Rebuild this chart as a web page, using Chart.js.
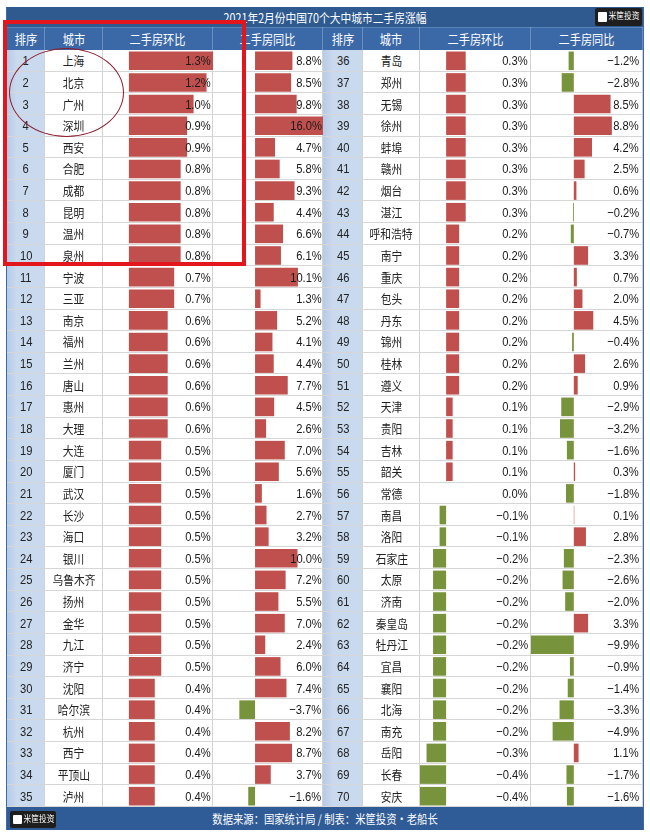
<!DOCTYPE html>
<html><head><meta charset="utf-8">
<script src="https://cdn.jsdelivr.net/npm/chart.js@4.4.1/dist/chart.umd.min.js"></script>
<style>
html,body{margin:0;padding:0;background:#fff;}
body{width:650px;height:840px;overflow:hidden;position:relative;font-family:"Liberation Sans","Noto Sans CJK SC",sans-serif;}
.abs{position:absolute;box-sizing:border-box;}
.cell{position:absolute;display:flex;align-items:center;white-space:nowrap;box-sizing:border-box;}
.cell span{display:inline-block;transform:scaleX(0.86);}
canvas{position:absolute;}
</style></head><body>
<script>
// ---------- DATA ----------
const chartTitle = '2021年2月份中国70个大中城市二手房涨幅';
const headerLabels = ['排序','城市','二手房环比','二手房同比'];
const footerText = '数据来源：国家统计局 / 制表：米筐投资·老船长';
const logoText = '米筐投资';

const ranksLeft = [1,2,3,4,5,6,7,8,9,10,11,12,13,14,15,16,17,18,19,20,21,22,23,24,25,26,27,28,29,30,31,32,33,34,35];
const citiesLeft = ['上海','北京','广州','深圳','西安','合肥','成都','昆明','温州','泉州','宁波','三亚','南京','福州','兰州','唐山','惠州','大理','大连','厦门','武汉','长沙','海口','银川','乌鲁木齐','扬州','金华','九江','济宁','沈阳','哈尔滨','杭州','西宁','平顶山','泸州'];
const momLeft = [1.3,1.2,1.0,0.9,0.9,0.8,0.8,0.8,0.8,0.8,0.7,0.7,0.6,0.6,0.6,0.6,0.6,0.6,0.5,0.5,0.5,0.5,0.5,0.5,0.5,0.5,0.5,0.5,0.5,0.4,0.4,0.4,0.4,0.4,0.4];
const yoyLeft = [8.8,8.5,9.8,16.0,4.7,5.8,9.3,4.4,6.6,6.1,10.1,1.3,5.2,4.1,4.4,7.7,4.5,2.6,7.0,5.6,1.6,2.7,3.2,10.0,7.2,5.5,7.0,2.4,6.0,7.4,-3.7,8.2,8.7,3.7,-1.6];

const ranksRight = [36,37,38,39,40,41,42,43,44,45,46,47,48,49,50,51,52,53,54,55,56,57,58,59,60,61,62,63,64,65,66,67,68,69,70];
const citiesRight = ['青岛','郑州','无锡','徐州','蚌埠','赣州','烟台','湛江','呼和浩特','南宁','重庆','包头','丹东','锦州','桂林','遵义','天津','贵阳','吉林','韶关','常德','南昌','洛阳','石家庄','太原','济南','秦皇岛','牡丹江','宜昌','襄阳','北海','南充','岳阳','长春','安庆'];
const momRight = [0.3,0.3,0.3,0.3,0.3,0.3,0.3,0.3,0.2,0.2,0.2,0.2,0.2,0.2,0.2,0.2,0.1,0.1,0.1,0.1,0.0,-0.1,-0.1,-0.2,-0.2,-0.2,-0.2,-0.2,-0.2,-0.2,-0.2,-0.2,-0.3,-0.4,-0.4];
const yoyRight = [-1.2,-2.8,8.5,8.8,4.2,2.5,0.6,-0.2,-0.7,3.3,0.7,2.0,4.5,-0.4,2.6,0.9,-2.9,-3.2,-1.6,0.3,-1.8,0.1,2.8,-2.3,-2.6,-2.0,3.3,-9.9,-0.9,-1.4,-3.3,-4.9,1.1,-1.7,-1.6];

// axis ranges of the data bars
const momRange = [-0.4, 1.3];
const yoyRange = [-9.9, 16.0];

// ---------- LAYOUT ----------
const FX0 = 7, FX1 = 643;
const TITLE_Y = 7, HEAD_Y = 27, ROW_Y = 50, ROWS_END = 807, FOOT_END = 830;
const NROW = 35, RH = (ROWS_END - ROW_Y) / NROW;
const COLS = {
  L:{rank:[FX0,45], city:[45,103], mom:[103,213], yoy:[213,323], pads:[2,1.5]},
  R:{rank:[323,363], city:[363,420], mom:[420,531], yoy:[531,FX1], pads:[3,4]}
};
const RED = '#c0504d', GREEN = '#77933c';
const NUMFONT = '"Liberation Sans", Arial, sans-serif';
const CJKFONT = '"Noto Sans CJK SC", sans-serif';

function box(x, y, w, h, css, z) {
  const d = document.createElement('div');
  d.className = 'abs';
  Object.assign(d.style, {left:x+'px', top:y+'px', width:w+'px', height:h+'px', zIndex:z||1}, css||{});
  document.body.appendChild(d);
  return d;
}
function text(str, x, y, w, h, align, font, size, color, z, origin) {
  const d = document.createElement('div');
  d.className = 'cell';
  Object.assign(d.style, {left:x+'px', top:y+'px', width:w+'px', height:h+'px',
    justifyContent: align==='right'?'flex-end':(align==='left'?'flex-start':'center'),
    fontFamily:font, fontSize:size+'px', color:color, zIndex:z||3});
  const s = document.createElement('span');
  s.textContent = str;
  s.style.transformOrigin = origin || (align==='right'?'right center':'center center');
  d.appendChild(s);
  document.body.appendChild(d);
  return d;
}
const fmt = v => (v < 0 ? '\u2212' : '') + Math.abs(v).toFixed(1) + '%';

// frame / title / header / footer
box(FX0-1, TITLE_Y, FX1-FX0+2, FOOT_END-TITLE_Y, {border:'1px solid #3d6aa6', background:'#fff'}, 0);
box(FX0, TITLE_Y, FX1-FX0, HEAD_Y-TITLE_Y, {background:'#2e5a90'}, 1);
box(FX0, HEAD_Y, FX1-FX0, ROW_Y-HEAD_Y, {background:'#3b69a7', borderTop:'1px solid #5a83b8'}, 1);
box(FX0, ROWS_END, FX1-FX0, FOOT_END-ROWS_END, {background:'#2f5c96'}, 1);
text(chartTitle, FX0, TITLE_Y, FX1-FX0, HEAD_Y-TITLE_Y, 'center', CJKFONT, 12.5, '#fff', 3);
text(footerText, FX0, ROWS_END, FX1-FX0, FOOT_END-ROWS_END, 'center', CJKFONT, 12, '#fff', 3);

function logo(x, y, w, h) {
  box(x, y, w, h, {background:'#1e1e1e', borderRadius:'2px'}, 2);
  box(x+3, y+4, 9, h-8, {background:'#fff', borderRadius:'1px'}, 3);
  text(logoText, x+12, y, w-13, h-3, 'center', CJKFONT, 9, '#fff', 4);
}
logo(595, 8, 47, 18);
logo(10, 811, 46, 17);

// columns
const sides = [
  {c:COLS.L, ranks:ranksLeft, cities:citiesLeft, mom:momLeft, yoy:yoyLeft},
  {c:COLS.R, ranks:ranksRight, cities:citiesRight, mom:momRight, yoy:yoyRight}
];
sides.forEach(side => {
  const c = side.c;
  const keys = ['rank','city','mom','yoy'];
  keys.forEach((k, i) => {
    const [x0, x1] = c[k];
    // header
    box(x0, HEAD_Y, x1-x0, ROW_Y-HEAD_Y, {borderRight:'1px solid rgba(255,255,255,0.25)'}, 2);
    text(headerLabels[i], x0, HEAD_Y, x1-x0, ROW_Y-HEAD_Y, 'center', CJKFONT, 13, '#fff', 3);
    // column body
    const bg = k === 'rank' ? 'linear-gradient(to right, #b6cbe6 0%, #c9d9ee 25%, #c9d9ee 100%)' : '#fff';
    box(x0, ROW_Y, x1-x0, ROWS_END-ROW_Y, {background:bg, borderRight:'1px solid #d3d3d3'}, 1);
  });
  for (let r = 0; r < NROW; r++) {
    const y = ROW_Y + r*RH;
    box(c.rank[0], y, c.yoy[1]-c.rank[0], RH, {borderBottom:'1px solid #d6d6d6'}, 1);
    text(String(side.ranks[r]), c.rank[0], y, c.rank[1]-c.rank[0], RH, 'center', NUMFONT, 13, '#222', 3);
    text(side.cities[r], c.city[0], y, c.city[1]-c.city[0], RH, 'center', CJKFONT, 12.5, '#222', 3);
    text(fmt(side.mom[r]), c.mom[0], y, c.mom[1]-c.mom[0]-c.pads[0], RH, 'right', NUMFONT, 13, '#1a1a1a', 3);
    text(fmt(side.yoy[r]), c.yoy[0], y, c.yoy[1]-c.yoy[0]-c.pads[1], RH, 'right', NUMFONT, 13, '#1a1a1a', 3);
  }
  // data bars via Chart.js
  [['mom', side.mom, momRange], ['yoy', side.yoy, yoyRange]].forEach(([k, vals, rng]) => {
    const [x0, x1] = c[k];
    const cv = document.createElement('canvas');
    cv.width = x1 - x0; cv.height = Math.round(ROWS_END - ROW_Y);
    cv.style.left = x0 + 'px'; cv.style.top = ROW_Y + 'px';
    cv.style.width = cv.width + 'px'; cv.style.height = cv.height + 'px';
    cv.style.zIndex = 2;
    document.body.appendChild(cv);
    new Chart(cv, {
      type: 'bar',
      data: {
        labels: side.cities,
        datasets: [{
          data: vals,
          backgroundColor: vals.map(v => v < 0 ? GREEN : RED),
          borderWidth: 0,
          categoryPercentage: 0.86,
          barPercentage: 1.0
        }]
      },
      options: {
        indexAxis: 'y',
        responsive: false,
        animation: false,
        devicePixelRatio: 1,
        layout: {padding: 0},
        plugins: {legend: {display: false}, tooltip: {enabled: false}, title: {display: false}},
        scales: {
          x: {display: false, min: rng[0], max: rng[1]},
          y: {display: false}
        }
      }
    });
  });
});

// annotations drawn on the original picture
box(3, 20, 243, 246, {border:'4px solid #e3151d'}, 5);
box(9, 48, 115, 89, {border:'1.5px solid #8e1b2c', borderRadius:'50%'}, 5);
</script>
</body></html>
